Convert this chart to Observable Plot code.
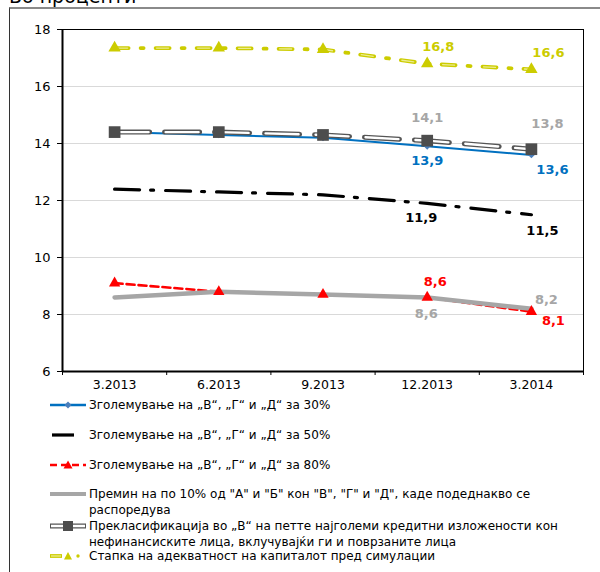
<!DOCTYPE html>
<html>
<head>
<meta charset="utf-8">
<script src="https://cdn.jsdelivr.net/npm/d3@7"></script>
<script src="https://cdn.jsdelivr.net/npm/@observablehq/plot@0.6"></script>
<style>
  html, body { margin: 0; padding: 0; background: #fff; }
  #wrap { position: relative; width: 600px; height: 572px; overflow: hidden; background: #fff; font-family: "DejaVu Sans", sans-serif; }
  #title { position: absolute; left: 9px; top: -15px; font-size: 19px; color: #000; white-space: nowrap; }
  #frame { position: absolute; left: 9px; top: 7px; width: 600px; height: 600px; border-left: 1px solid #333; border-top: 2px solid #8a8a8a; }
  #chart { position: absolute; left: 0; top: 0; }
  .leg { position: absolute; left: 50px; font-size: 12px; line-height: 16px; color: #000; white-space: nowrap; }
  .leg svg { position: absolute; left: 0; top: 2px; }
  .leg span { position: absolute; left: 39px; top: 0; }
</style>
</head>
<body>
<div id="wrap">
  <div id="title">Во проценти</div>
  <div id="frame"></div>
  <div id="chart"></div>
  <div id="legend"></div>
</div>
<script>
// ---------- data ----------
const periods = ["3.2013", "6.2013", "9.2013", "12.2013", "3.2014"];
const growth30 = [14.4, 14.3, 14.2, 13.9, 13.6];
const growth50 = [12.4, 12.3, 12.2, 11.9, 11.5];
const growth80 = [9.1, 8.8, 8.7, 8.6, 8.1];
const transfer10 = [8.6, 8.8, 8.7, 8.6, 8.2];
const reclass = [14.4, 14.4, 14.3, 14.1, 13.8];
const baseline = [17.35, 17.35, 17.3, 16.8, 16.6];
const yTicks = [6, 8, 10, 12, 14, 16, 18];
const seriesNames = [
  "Зголемување на „В“, „Г“ и „Д“ за 30%",
  "Зголемување на „В“, „Г“ и „Д“ за 50%",
  "Зголемување на „В“, „Г“ и „Д“ за 80%",
  "Премин на по 10% од \"А\" и \"Б\" кон \"В\", \"Г\" и \"Д\", каде подеднакво се|распоредува",
  "Прекласификација во „В“ на петте најголеми кредитни изложености кон|нефинансиските лица, вклучувајќи ги и поврзаните лица",
  "Стапка на адекватност на капиталот пред симулации"
];

// ---------- build tables ----------
const rows = (vals) => vals.map((v, i) => ({i, v, label: v.toFixed(1).replace(".", ",")}));
const d30 = rows(growth30), d50 = rows(growth50), d80 = rows(growth80);
const dTr = rows(transfer10), dRe = rows(reclass), dBase = rows(baseline);
const last = (d, k) => d.slice(3)[k];

const C = {blue: "#0070C0", black: "#000000", red: "#FF0000", gray: "#A6A6A6", dark: "#4D4D4D", yellow: "#CCCC00"};
const lab = (d, k, color, dx, dy) => Plot.text([last(d, k)], {
  x: "i", y: "v", text: "label", fill: color, dx, dy,
  fontWeight: "bold", fontSize: 13, fontFamily: "DejaVu Sans"
});

const boundaries = d3.range(-0.5, 5, 1);

const chart = Plot.plot({
  width: 600, height: 400,
  marginLeft: 62, marginRight: 17, marginTop: 29, marginBottom: 29,
  style: {fontFamily: "DejaVu Sans", fontSize: "12px", background: "transparent"},
  x: {domain: [-0.5, 4.5]},
  y: {domain: [6, 18]},
  marks: [
    Plot.gridY([8, 10, 12, 14, 16], {stroke: "#D9D9D9", strokeOpacity: 1, strokeWidth: 1.2}),
    Plot.frame({stroke: "#000", strokeWidth: 1}),
    Plot.ruleX([-0.5], {stroke: "#000", strokeWidth: 2}),
    Plot.ruleY([6], {stroke: "#000", strokeWidth: 2}),
    // lines
    Plot.line(d30, {x: "i", y: "v", stroke: C.blue, strokeWidth: 2}),
    Plot.line(d50, {x: "i", y: "v", stroke: C.black, strokeWidth: 3.2, strokeDasharray: "25,11,3,12"}),
    Plot.line(d80, {x: "i", y: "v", stroke: C.red, strokeWidth: 2.6, strokeDasharray: "8,4"}),
    Plot.line(dTr, {x: "i", y: "v", stroke: C.gray, strokeWidth: 4.5}),
    Plot.line(dRe, {x: "i", y: "v", stroke: "#555", strokeWidth: 5, strokeDasharray: "35,15"}),
    Plot.line(dRe, {x: "i", y: "v", stroke: "#fff", strokeWidth: 2.4, strokeDasharray: "33,17", strokeDashoffset: -1}),
    Plot.line(dBase, {x: "i", y: "v", stroke: C.yellow, strokeWidth: 3.8, strokeDasharray: "14,12,3,12"}),
    Plot.line(dBase, {x: "i", y: "v", stroke: "#ECEC90", strokeWidth: 1.3, strokeDasharray: "12,29", strokeDashoffset: -1}),
    // markers
    Plot.dot(d30, {x: "i", y: "v", symbol: "diamond2", r: 3, fill: "#4A7EBB", stroke: null}),
    Plot.dot(d80, {x: "i", y: "v", symbol: "triangle", r: 4.2, fill: C.red, stroke: null}),
    Plot.dot(dRe, {x: "i", y: "v", symbol: "square", r: 6.6, fill: "#4D4D4D", stroke: null}),
    Plot.dot(dBase, {x: "i", y: "v", symbol: "triangle", r: 4.6, fill: C.yellow, stroke: null}),
    // value labels
    lab(dBase, 0, C.yellow, 11, -17), lab(dBase, 1, C.yellow, 17, -17),
    lab(dRe, 0, C.gray, 0, -23), lab(dRe, 1, C.gray, 16, -25),
    lab(d30, 0, C.blue, 0, 14), lab(d30, 1, C.blue, 21, 15),
    lab(d50, 0, C.black, -6, 14), lab(d50, 1, C.black, 11, 16),
    lab(d80, 0, C.red, 8, -16), lab(d80, 1, C.red, 22, 9),
    lab(dTr, 0, C.gray, -1, 16), lab(dTr, 1, C.gray, 15, -9),
    // axes
    Plot.axisY(yTicks, {tickSize: 5, tickPadding: 7, fontSize: 13, label: null, stroke: "#000"}),
    Plot.axisX(boundaries, {tickSize: 4, tickFormat: () => "", label: null, stroke: "#000"}),
    Plot.axisX(d3.range(periods.length), {tickSize: 0, tickPadding: 9, tickFormat: (i) => periods[i], fontSize: 12.5, label: null})
  ]
});
document.getElementById("chart").appendChild(chart);

// ---------- legend ----------
const swatches = [
  `<line x1="0" y1="6" x2="36" y2="6" stroke="${C.blue}" stroke-width="2.5"/><path d="M18 2.5 L21.5 6 L18 9.5 L14.5 6Z" fill="#4A7EBB"/>`,
  `<line x1="2" y1="6" x2="24" y2="6" stroke="#000" stroke-width="3.2"/>`,
  `<line x1="0" y1="6" x2="36" y2="6" stroke="${C.red}" stroke-width="2.6" stroke-dasharray="7,4"/><path d="M18 1.5 L22.5 9.5 L13.5 9.5Z" fill="${C.red}"/>`,
  `<line x1="0" y1="6" x2="36" y2="6" stroke="${C.gray}" stroke-width="4"/>`,
  `<line x1="0" y1="6" x2="36" y2="6" stroke="#555" stroke-width="5"/><line x1="1" y1="6" x2="35" y2="6" stroke="#fff" stroke-width="2.4"/><rect x="13" y="1" width="10" height="10" fill="#4D4D4D"/>`,
  `<line x1="0" y1="6" x2="12" y2="6" stroke="${C.yellow}" stroke-width="3.8"/><line x1="1" y1="6" x2="11" y2="6" stroke="#ECEC90" stroke-width="1.3"/><path d="M18 2 L22 9.5 L14 9.5Z" fill="${C.yellow}"/><circle cx="28" cy="6" r="1.7" fill="${C.yellow}"/>`
];
const legTops = [397, 427, 457, 486, 518, 548];
const legend = document.getElementById("legend");
seriesNames.forEach((name, k) => {
  const div = document.createElement("div");
  div.className = "leg";
  div.style.top = legTops[k] + "px";
  div.innerHTML = `<svg width="36" height="12">${swatches[k]}</svg><span>${name.split("|").join("<br>")}</span>`;
  legend.appendChild(div);
});
</script>
</body>
</html>
